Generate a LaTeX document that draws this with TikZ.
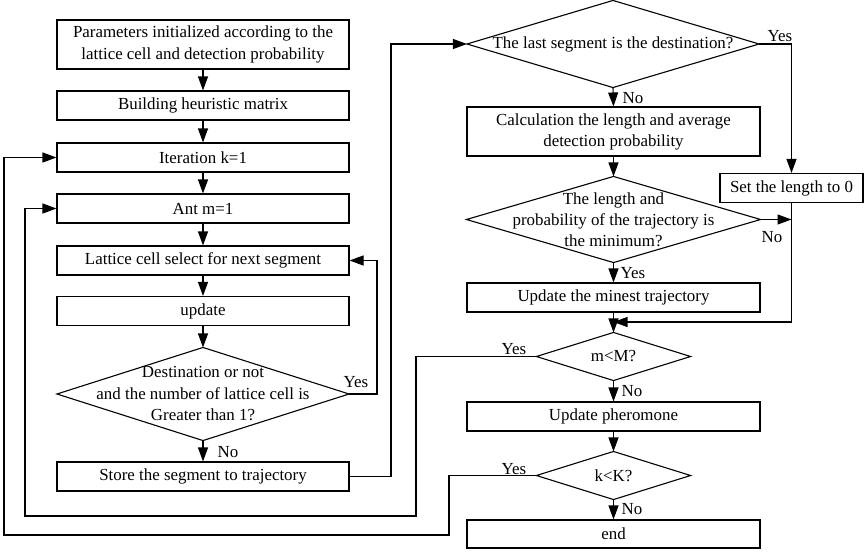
\documentclass[tikz,border=0pt]{standalone}
\usepackage{fontspec}
\setmainfont{Liberation Serif}
\usetikzlibrary{arrows.meta}
\begin{document}
\begin{tikzpicture}[x=1pt,y=-1pt,
  line width=1.1pt,
  txt/.style={font=\fontsize{16.9}{22}\selectfont, inner sep=0pt},
  box/.style={txt, draw, align=center, minimum height=29pt, minimum width=292pt},
  dia/.style={txt, align=center, minimum width=#1},
  lbl/.style={txt},
  arr/.style={-{Triangle[length=14pt,width=10pt]}}
]
\useasboundingbox (0,0) rectangle (867,552);

% left column
\node[box, minimum height=49pt] (p1) at (203,44.5) {Parameters initialized according to the\\lattice cell and detection probability};
\node[box] (p2) at (203,105.5) {Building heuristic matrix};
\node[box] (iter) at (203,157.5) {Iteration k=1};
\node[box] (ant) at (203,208.5) {Ant m=1};
\node[box] (lat) at (203,260.5) {Lattice cell select for next segment};
\node[box] (upd) at (203,311) {update};
\node[dia=291pt, minimum height=92pt, font=\fontsize{16.9}{21.5}\selectfont] (d1) at (203,394) {Destination or not\\and the number of lattice cell is\\Greater than 1?};
\draw (d1.north) -- (d1.east) -- (d1.south) -- (d1.west) -- cycle;
\node[box] (store) at (203,476.5) {Store the segment to trajectory};

% right column
\node[dia=291pt, minimum height=86pt] (rd1) at (613,44) {The last segment is the destination?};
\draw (rd1.north) -- (rd1.east) -- (rd1.south) -- (rd1.west) -- cycle;
\node[box, minimum width=293pt, minimum height=49pt, font=\fontsize{16.9}{21}\selectfont] (calc) at (613.5,131.5) {Calculation the length and average\\detection probability};
\node[dia=293pt, minimum height=85pt, font=\fontsize{16.9}{21}\selectfont] (d2) at (613.5,219.5) {The length and\\probability of the trajectory is\\the minimum?};
\draw (d2.north) -- (d2.east) -- (d2.south) -- (d2.west) -- cycle;
\node[box, minimum width=143pt] (sl) at (791.5,188) {Set the length to 0};
\node[box, minimum width=293pt] (minest) at (613.5,297.5) {Update the minest trajectory};
\node[dia=153pt, minimum height=47pt] (mM) at (613.5,356.5) {m<M?};
\draw (mM.north) -- (mM.east) -- (mM.south) -- (mM.west) -- cycle;
\node[box, minimum width=293pt] (pher) at (613.5,416.5) {Update pheromone};
\node[dia=153pt, minimum height=47pt] (kK) at (613.5,475.5) {k<K?};
\draw (kK.north) -- (kK.east) -- (kK.south) -- (kK.west) -- cycle;
\node[box, minimum width=293pt, minimum height=28pt] (end) at (613.5,534) {end};

% labels
\node[lbl] (y1) at (356,382) {Yes};
\node[lbl] (n1) at (228,452) {No};
\node[lbl] (y2) at (780,36) {Yes};
\node[lbl] (n2) at (633,98) {No};
\node[lbl] (n3) at (772,237) {No};
\node[lbl] (y3) at (633,273) {Yes};
\node[lbl] (y4) at (514,349) {Yes};
\node[lbl] (n4) at (632,391) {No};
\node[lbl] (y5) at (514,469) {Yes};
\node[lbl] (n5) at (632,509) {No};

% coordinates for connectors
\coordinate (sc) at (391,44);
\coordinate (yc) at (377,260.5);
\coordinate (ob1) at (449,535);
\coordinate (ob2) at (4,535);
\coordinate (ib1) at (416,516);
\coordinate (ib2) at (25,516);
\coordinate (mg) at (613.5,322);

% left column arrows
\draw[arr] (p1.south) -- (p2.north);
\draw[arr] (p2.south) -- (iter.north);
\draw[arr] (iter.south) -- (ant.north);
\draw[arr] (ant.south) -- (lat.north);
\draw[arr] (lat.south) -- (upd.north);
\draw[arr] (upd.south) -- (d1.north);
\draw[arr] (d1.south) -- (store.north);
\draw[arr] (d1.east) -| (yc) -- (lat.east);
\draw[arr] (store.east) -| (sc) -- (rd1.west);

% right column arrows
\draw[arr] (rd1.south) -- (calc.north);
\draw[arr] (calc.south) -- (d2.north);
\draw[arr] (d2.south) -- (minest.north);
\draw[arr] (rd1.east) -| (sl.north);
\draw[arr] (d2.east) -- (d2.east -| sl.south);
\draw[arr] (sl.south) |- (mg);
\draw[arr] (minest.south) -- (mM.north);
\draw[arr] (mM.south) -- (pher.north);
\draw[arr] (pher.south) -- (kK.north);
\draw[arr] (kK.south) -- (end.north);

% loops
\draw[arr] (mM.west) -| (ib1) -- (ib2) |- (ant.west);
\draw[arr] (kK.west) -| (ob1) -- (ob2) |- (iter.west);
\end{tikzpicture}
\end{document}
